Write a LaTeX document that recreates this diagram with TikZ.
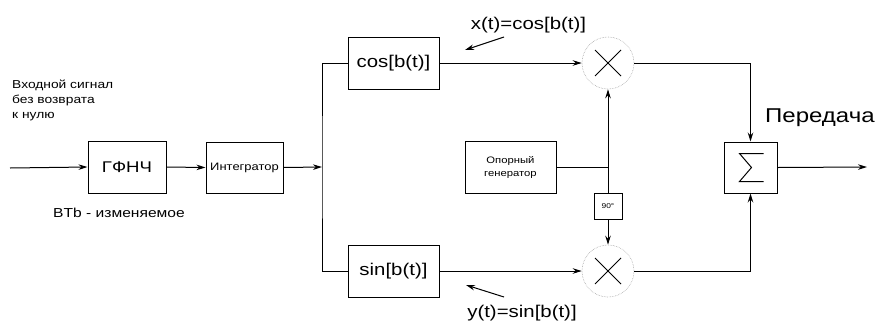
\documentclass[tikz,border=0pt]{standalone}
\usepackage{fontspec}
\setmainfont{Liberation Sans}[FakeStretch=1.2]
\usetikzlibrary{arrows.meta}
\begin{document}
\begin{tikzpicture}[x=1pt,y=-1pt,
  blk/.style={draw,line width=1pt,rectangle,inner sep=0pt},
  mul/.style={draw=gray!70,densely dotted,line width=0.6pt,circle,minimum size=52pt,inner sep=0pt},
  con/.style={line width=1pt},
  arr/.style={con,-{Stealth[length=9pt,width=5.5pt]}},
  txt/.style={inner sep=0pt}]
\useasboundingbox (0,0) rectangle (880,322);
% blocks
\node[blk,minimum width=78pt,minimum height=52pt,font=\fontsize{15.5}{18}\selectfont] (gfnch) at (127,167) {ГФНЧ};
\node[blk,minimum width=77pt,minimum height=51pt,font=\fontsize{10.8}{13}\selectfont] (integ) at (244.5,167.5) {Интегратор};
\node[blk,minimum width=91pt,minimum height=52pt,font=\fontsize{17}{20}\selectfont] (cosb) at (393.5,63) {cos[b(t)]};
\node[blk,minimum width=91pt,minimum height=52pt,font=\fontsize{17}{20}\selectfont] (sinb) at (393.5,271) {sin[b(t)]};
\node[blk,minimum width=91pt,minimum height=52pt,align=center,font=\fontsize{9.4}{13}\selectfont] (gen) at (510.5,167) {Опорный\\генератор};
\node[blk,minimum width=28pt,minimum height=26pt,font=\fontsize{7}{8}\selectfont] (ph) at (608,206) {90°};
\node[mul] (m1) at (608,63) {};
\node[mul] (m2) at (608,271) {};
\node[blk,minimum width=53pt,minimum height=51pt] (sum) at (750.5,167.5) {};
% crosses and sigma
\foreach \m in {m1,m2}{
  \draw[line width=0.9pt] ([shift={(-13,-13)}]\m.center) -- ([shift={(13,13)}]\m.center);
  \draw[line width=0.9pt] ([shift={(-13,13)}]\m.center) -- ([shift={(13,-13)}]\m.center);
}
\draw[line width=1pt] ([shift={(13,-14)}]sum.center) -- ([shift={(-11,-14)}]sum.center) -- ([shift={(1,0)}]sum.center) -- ([shift={(-11,14)}]sum.center) -- ([shift={(13,14)}]sum.center);
% coordinates
\coordinate (in) at (10,168);
\coordinate (split) at (322,167);
\coordinate (tap) at (608,167);
\coordinate (out) at (867,167);
\coordinate (xa) at (504,37);
\coordinate (xb) at (465,50);
\coordinate (ya) at (504,297);
\coordinate (yb) at (466,285);
% connectors
\draw[arr] (in) -- (gfnch.west);
\draw[arr] (gfnch.east) -- (integ.west);
\draw[arr] (integ.east) -- (split);
\draw[con] (cosb.west) -| (split) |- (sinb.west);
\draw[arr] (cosb.east) -- (m1.west);
\draw[arr] (sinb.east) -- (m2.west);
\draw[con] (gen.east) -- (tap);
\draw[arr] (tap) -- (m1.south);
\draw[con] (tap) -- (ph.north);
\draw[arr] (ph.south) -- (m2.north);
\draw[arr] (m1.east) -| (sum.north);
\draw[arr] (m2.east) -| (sum.south);
\draw[arr] (sum.east) -- (out);
\draw[arr] (xa) -- (xb);
\draw[arr] (ya) -- (yb);
% labels
\node[txt,anchor=base west,align=left,font=\fontsize{11.5}{15}\selectfont] (intxt) at (12,118) {Входной сигнал\\без возврата\\к нулю};
\node[txt,anchor=base west,font=\fontsize{13}{15}\selectfont] (btb) at (53,217) {BTb - изменяемое};
\node[txt,font=\fontsize{17}{20}\selectfont] (xl) at (528.5,25) {x(t)=cos[b(t)]};
\node[txt,font=\fontsize{17}{20}\selectfont] (yl) at (522,313) {y(t)=sin[b(t)]};
\node[txt,anchor=base west,font=\fontsize{20}{24}\selectfont] (tx) at (765,122) {Передача};
\end{tikzpicture}
\end{document}
